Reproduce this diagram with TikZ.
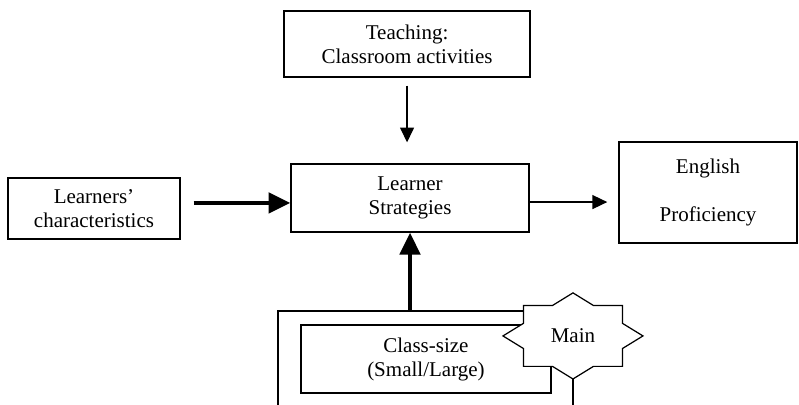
\documentclass[tikz,border=0pt]{standalone}
\usepackage{fontspec}
\setmainfont{Liberation Serif}
\usetikzlibrary{arrows.meta,positioning}

\begin{document}
\begin{tikzpicture}[x=1pt,y=1pt,line width=0.7pt,
  box/.style={draw,align=center,font=\fontsize{12}{13.7}\selectfont},
  link/.style={-{Triangle[length=8.5pt,width=8pt]}},
  boldlink/.style={line width=2.5pt,-{Triangle[length=12.5pt,width=11.5pt]}}]
\useasboundingbox (0,0) rectangle (456.57,230.86);
\clip (0,0) rectangle (456.57,230.86);

\node[box, minimum width=140.6pt, minimum height=37.7pt] (teach) at (232.6,205.7) {Teaching:\\Classroom activities};
\node[box, minimum width=136pt, minimum height=38.9pt] (ls) at (234.3,117.7) {Learner\\Strategies};
\node[box, minimum width=98.3pt, minimum height=34.9pt] (lc) at (53.7,111.7) {Learners’\\characteristics};
\node[box, minimum width=101.7pt, minimum height=57.7pt] (ep) at (404.6,120.9) {English\\[14pt]Proficiency};

% class size frame, runs off the bottom
\node[draw, minimum width=168.5pt, minimum height=73.1pt] (frame) at (243.15,16.55) {};
\node[box, minimum width=142.9pt, minimum height=38.9pt] (size) at (243.4,25.7) {Class-size\\(Small/Large)};

\draw[link, shorten <=4.6pt, shorten >=12pt] (teach) -- (teach |- ls.north);
\draw[boldlink, shorten <=7.4pt] ([yshift=3.2pt]lc.east) -- ([yshift=-2.8pt]ls.west);
\draw[link, shorten >=6.4pt] ([yshift=-2.3pt]ls.east) -- ([yshift=-2.3pt]ls.east -| ep.west);
\draw[boldlink] (ls.south |- frame.north) -- (ls.south);

% eight point star
\draw[fill=white] plot[samples at={0,...,15}, variable=\k]
  ({327.4+40*ifthenelse(mod(\k,2)==0,1,0.765)*cos(90+22.5*\k)},
   {38.9+24.6*ifthenelse(mod(\k,2)==0,1,0.765)*sin(90+22.5*\k)}) -- cycle;
\node[font=\fontsize{12}{13.7}\selectfont] (main) at (327.4,38.9) {Main};
\end{tikzpicture}
\end{document}
